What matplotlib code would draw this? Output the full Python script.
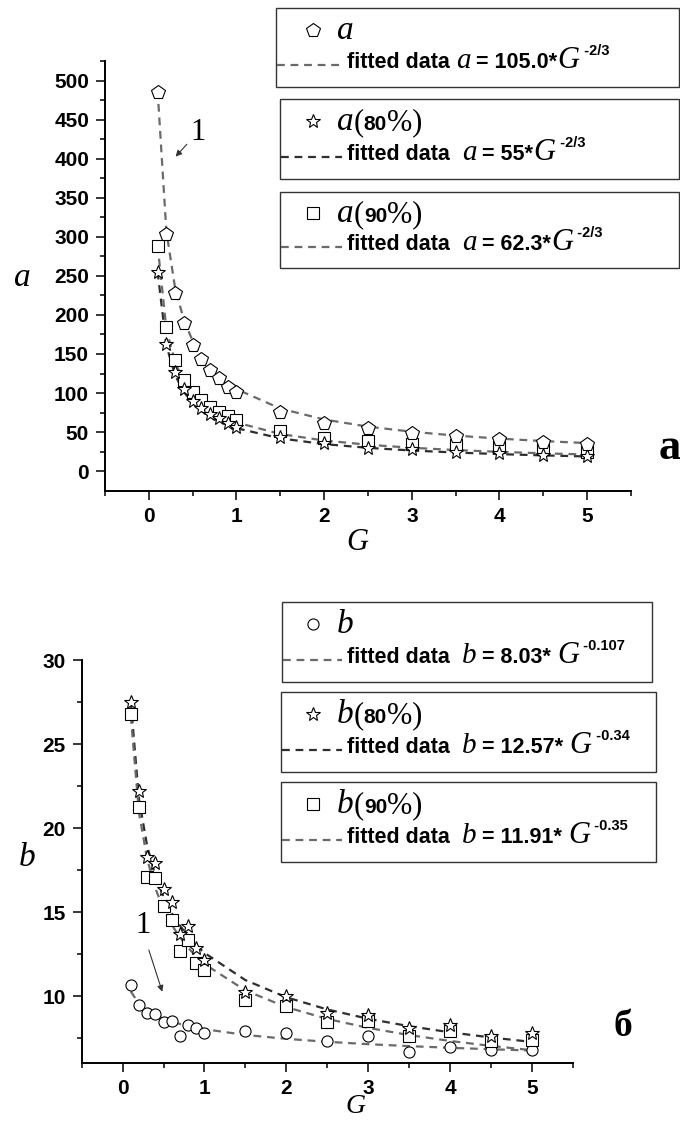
import matplotlib
matplotlib.use("Agg")
import matplotlib.pyplot as plt
import numpy as np
from matplotlib.lines import Line2D
from matplotlib.patches import Rectangle

# %%
# values
G = [0.1, 0.2, 0.3, 0.4, 0.5, 0.6, 0.7, 0.8, 0.9, 1.0, 1.5, 2.0, 2.5, 3.0, 3.5, 4.0, 4.5, 5.0]

a_all = [485, 303, 228, 190, 162, 144, 130, 119, 108, 101, 76, 62, 55, 49, 45, 41, 37, 35]
a_80 = [255, 163, 127, 105, 90, 81, 73, 68, 62, 57, 44, 36, 30, 28, 25, 23, 21, 19]
a_90 = [288, 184, 142, 117, 101, 91, 82, 76, 70, 66, 51, 43, 38, 35, 33, 31, 28, 24]

b_all = [10.67, 9.48, 8.99, 8.93, 8.43, 8.49, 7.6, 8.25, 8.1, 7.83, 7.93, 7.8, 7.3, 7.6, 6.7, 6.96, 6.8, 6.8]
b_80 = [27.5, 22.2, 18.3, 17.9, 16.4, 15.6, 13.7, 14.2, 12.85, 12.16, 10.27, 9.98, 8.99, 8.9, 8.1, 8.3, 7.6, 7.8]
b_90 = [26.8, 21.25, 17.1, 17.0, 15.35, 14.55, 12.7, 13.35, 11.96, 11.57, 9.78, 9.42, 8.43, 8.49, 7.6, 7.9, 7.3, 7.4]

# fit coefficients from the legends: y = k * G**p
fit_a = [(105.0, -2 / 3), (55.0, -2 / 3), (62.3, -2 / 3)]
fit_b = [(8.03, -0.107), (12.57, -0.34), (11.91, -0.35)]

# %%
W, H = 680, 1121
GRAY = "#6a6a6a"
DARK = "#2e2e2e"
DASH = (0, (3.5, 2.6))

SANS = dict(family="Liberation Sans", weight="bold")
SERIF = dict(family="Liberation Serif")
SERIF_IT = dict(family="Liberation Serif", style="italic")


def fx(px):
    return px / W


def fy(py):
    return 1 - py / H


fig = plt.figure(figsize=(W / 100, H / 100), dpi=100)
ax1 = fig.add_axes([fx(105), fy(490.7), (631 - 105) / W, (490.7 - 61) / H])
ax2 = fig.add_axes([fx(81.7), fy(1063.3), (572.7 - 81.7) / W, (1063.3 - 660) / H])

mk = dict(mfc="white", mec="black", mew=0.8, ls="none", zorder=3)
ln = dict(lw=1.6, ls=DASH, zorder=2)

Gx = np.array(G)
for (k, p), col in zip(fit_a, [GRAY, DARK, GRAY]):
    ax1.plot(Gx, k * Gx**p, color=col, **ln)
ax1.plot(G, a_90, marker="s", ms=8, **mk)
ax1.plot(G, a_80, marker="*", ms=10, **mk)
ax1.plot(G, a_all, marker="p", ms=10, **mk)

for (k, p), col in zip(fit_b, [GRAY, DARK, GRAY]):
    ax2.plot(Gx, k * Gx**p, color=col, **ln)
ax2.plot(G, b_all, marker="o", ms=8, **mk)
ax2.plot(G, b_90, marker="s", ms=8, **mk)
ax2.plot(G, b_80, marker="*", ms=10, **mk)

ax1.set_xlim(-0.5, 5.5)
ax1.set_ylim(-25, 525)
ax1.set_yticks(range(0, 501, 50))
ax1.set_yticks(range(25, 526, 50), minor=True)
ax2.set_xlim(-0.5, 5.5)
ax2.set_ylim(6, 30)
ax2.set_yticks([10, 15, 20, 25, 30])
ax2.set_yticks([7.5, 12.5, 17.5, 22.5, 27.5], minor=True)

for ax in (ax1, ax2):
    ax.set_xticks(range(0, 6))
    ax.set_xticks(np.arange(-0.5, 5.6, 1.0), minor=True)
    for s in ("top", "right"):
        ax.spines[s].set_visible(False)
    for s in ("left", "bottom"):
        ax.spines[s].set_linewidth(1.4)
    ax.tick_params(which="major", direction="out", length=6.5, width=1.1, pad=5)
    ax.tick_params(which="minor", direction="out", length=3.8, width=1.1)
    for lab in ax.get_xticklabels() + ax.get_yticklabels():
        lab.set_fontfamily("Liberation Sans")
        lab.set_fontweight("bold")
        lab.set_fontsize(15)

# axis titles and panel letters
fig.text(fx(22), fy(278), "a", ha="center", va="center", size=24, **SERIF_IT)
fig.text(fx(357), fy(543), "G", ha="center", va="center", size=22, **SERIF_IT)
fig.text(fx(27), fy(858), "b", ha="center", va="center", size=24, **SERIF_IT)
fig.text(fx(355), fy(1119), "G", ha="center", va="bottom", size=20, **SERIF_IT)
fig.text(fx(670), fy(448), "а", ha="center", va="center", size=32,
         family="Liberation Serif", weight="bold")
fig.text(fx(623), fy(1026), "б", ha="center", va="center", size=27,
         family="Liberation Serif", weight="bold")

arrow = dict(arrowstyle="-|>", lw=0.8, color="#333333", mutation_scale=9)
ax1.annotate("", xy=(0.284, 400), xytext=(0.455, 421), arrowprops=arrow)
ax1.text(0.56, 433, "1", ha="center", va="center", size=22, **SERIF)
ax2.annotate("", xy=(0.495, 10.1), xytext=(0.31, 12.9), arrowprops=arrow)
ax2.text(0.25, 14.2, "1", ha="center", va="center", size=22, **SERIF)

# %%
# legend boxes, drawn by hand in figure pixels
renderer = fig.canvas.get_renderer()


def row(x, y, pieces):
    for s, kw, dy in pieces:
        t = fig.text(fx(x), fy(y - dy), s, ha="left", va="baseline", **kw)
        x += t.get_window_extent(renderer).width


def box(x0, y0, x1, y1, marker, ms, col, label, formula, line_end=342):
    fig.patches.append(Rectangle((fx(x0), fy(y1)), (x1 - x0) / W, (y1 - y0) / H,
                                 transform=fig.transFigure, fill=False,
                                 ec="#333333", lw=1.0))
    ym = y0 + 0.28 * (y1 - y0)
    fig.lines.append(Line2D([fx(313)], [fy(ym)], transform=fig.transFigure,
                            marker=marker, ms=ms, mfc="white", mec="black", mew=0.8))
    row(337, ym + 9, label)
    yl = y0 + 0.72 * (y1 - y0)
    fig.lines.append(Line2D([fx(x0 + 1), fx(line_end)], [fy(yl), fy(yl)],
                            transform=fig.transFigure, color=col, lw=1.6, ls=DASH))
    row(347, yl + 3, formula)


def label(v, pct=None):
    out = [(v, dict(size=24, **SERIF_IT), 0)]
    if pct:
        out += [("(", dict(size=22, **SERIF), 0), (pct, dict(size=15, **SANS), 0),
                ("%)", dict(size=22, **SERIF), 0)]
    return out


def formula(v, k, p, gap=" ", sep=" "):
    return [("fitted data" + gap, dict(size=15.5, **SANS), 0),
            (v, dict(size=21, **SERIF_IT), 0),
            (" = " + k + "*" + sep, dict(size=15.5, **SANS), 0),
            ("G", dict(size=22, **SERIF_IT), 0),
            (" " + p, dict(size=10.5, **SANS), 13)]


box(276, 8, 679, 87, "p", 10, GRAY, label("a"),
    formula("a", "105.0", "-2/3", " ", ""))
box(280, 99, 679, 179, "*", 10, DARK, label("a", "80"),
    formula("a", "55", "-2/3", "  ", ""))
box(280, 192, 679, 268, "s", 8, GRAY, label("a", "90"),
    formula("a", "62.3", "-2/3", "  ", ""))

box(282, 602, 652, 682, "o", 8, GRAY, label("b"), formula("b", "8.03", "-0.107", "  "))
box(281, 692, 656, 772, "*", 10, DARK, label("b", "80"), formula("b", "12.57", "-0.34", "  "))
box(281, 782, 656, 862, "s", 8, GRAY, label("b", "90"), formula("b", "11.91", "-0.35", "  "))

fig.savefig("out.png", dpi=100)
